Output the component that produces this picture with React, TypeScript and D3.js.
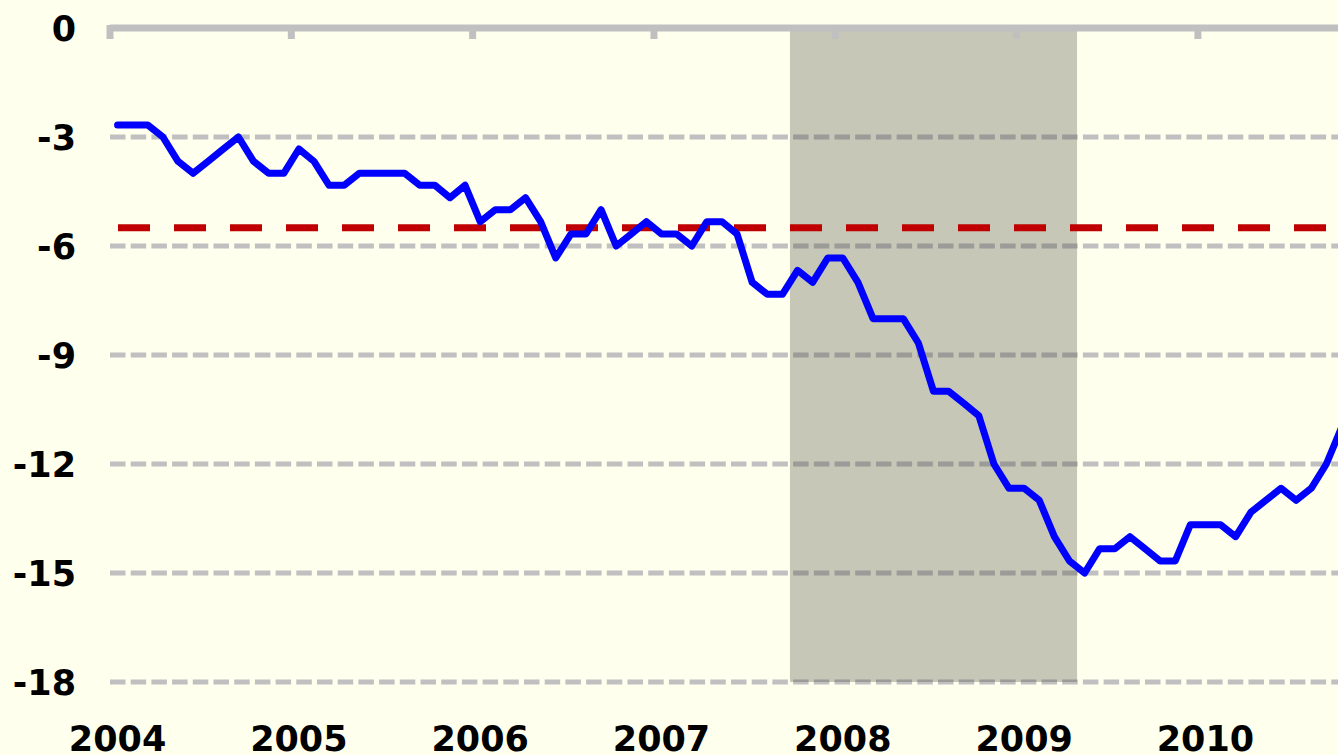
import React from "react";
import * as d3 from "d3";

// Monthly values starting Jan 2004
const startYear = 2004;
const values: number[] = [
  -2.67, -2.67, -2.67, -3.0, -3.67, -4.0, -3.67, -3.33, -3.0, -3.67, -4.0, -4.0,
  -3.33, -3.67, -4.33, -4.33, -4.0, -4.0, -4.0, -4.0, -4.33, -4.33, -4.67, -4.33,
  -5.33, -5.0, -5.0, -4.67, -5.33, -6.33, -5.67, -5.67, -5.0, -6.0, -5.67, -5.33,
  -5.67, -5.67, -6.0, -5.33, -5.33, -5.67, -7.0, -7.33, -7.33, -6.67, -7.0, -6.33,
  -6.33, -7.0, -8.0, -8.0, -8.0, -8.67, -10.0, -10.0, -10.33, -10.67, -12.0, -12.67,
  -12.67, -13.0, -14.0, -14.67, -15.0, -14.33, -14.33, -14.0, -14.33, -14.67, -14.67, -13.67,
  -13.67, -13.67, -14.0, -13.33, -13.0, -12.67, -13.0, -12.67, -12.0, -11.0,
];
const yearLabels: string[] = ["2004", "2005", "2006", "2007", "2008", "2009", "2010"];
const yTicks: number[] = [0, -3, -6, -9, -12, -15, -18];
const referenceLevel = -5.5;
// recession shading, month indices (inclusive) : Oct 2007 .. Apr 2009
const recessionStart = 45;
const recessionEnd = 63;

const W = 1338;
const H = 755;

export default function App() {
  const monthStep = 15.11;
  const x = d3.scaleLinear().domain([0, 84]).range([110, 110 + 84 * monthStep]);
  const y = d3.scaleLinear().domain([0, -18]).range([28, 682]);
  const line = d3
    .line<number>()
    .x((_, i) => x(i + 0.5))
    .y((d) => y(d))
    .curve(d3.curveLinear);
  const font = "'DejaVu Sans', Verdana, sans-serif";
  return (
    <svg
      width={W}
      height={H}
      style={{ position: "absolute", left: 0, top: 0, display: "block" }}
    >
      <defs>
        <clipPath id="clip">
          <rect x={0} y={0} width={W} height={H} />
        </clipPath>
      </defs>
      <rect x={0} y={0} width={W} height={H} fill="#FFFFEE" />
      {/* gridlines */}
      {yTicks
        .filter((t) => t !== 0)
        .map((t) => (
          <line
            key={t}
            x1={x(0)}
            x2={W}
            y1={y(t)}
            y2={y(t)}
            stroke="#C0C0C0"
            strokeWidth={5}
            strokeDasharray="15.5 5.2"
          />
        ))}
      {/* recession shading */}
      <rect
        x={x(recessionStart)}
        y={y(0) + 3}
        width={x(recessionEnd + 1) - x(recessionStart)}
        height={y(-18) - y(0) - 3}
        fill="rgb(70,70,60)"
        fillOpacity={0.3}
      />
      {/* top axis */}
      <line x1={x(0)} x2={W} y1={y(0)} y2={y(0)} stroke="#C0C0C0" strokeWidth={7} />
      {yearLabels.map((_, k) => (
        <line
          key={k}
          x1={x(k * 12)}
          x2={x(k * 12)}
          y1={y(0) - 3}
          y2={y(0) + 11}
          stroke="#C0C0C0"
          strokeWidth={7}
        />
      ))}
      {/* reference level */}
      <line
        x1={118}
        x2={W}
        y1={y(referenceLevel)}
        y2={y(referenceLevel)}
        stroke="#C00000"
        strokeWidth={7}
        strokeDasharray="32 24"
      />
      {/* series */}
      <path
        d={line(values) || ""}
        fill="none"
        stroke="#0000FF"
        strokeWidth={7}
        strokeLinejoin="round"
        strokeLinecap="round"
        clipPath="url(#clip)"
      />
      {/* y labels */}
      {yTicks.map((t) => (
        <text
          key={t}
          x={76}
          y={y(t)}
          dy="0.36em"
          textAnchor="end"
          fontFamily={font}
          fontWeight="bold"
          fontSize={35}
          fill="#000"
        >
          {t}
        </text>
      ))}
      {/* x labels */}
      {yearLabels.map((lab, k) => (
        <text
          key={lab}
          x={x(k * 12 + 0.5)}
          y={751}
          textAnchor="middle"
          fontFamily={font}
          fontWeight="bold"
          fontSize={35}
          fill="#000"
        >
          {lab}
        </text>
      ))}
    </svg>
  );
}
